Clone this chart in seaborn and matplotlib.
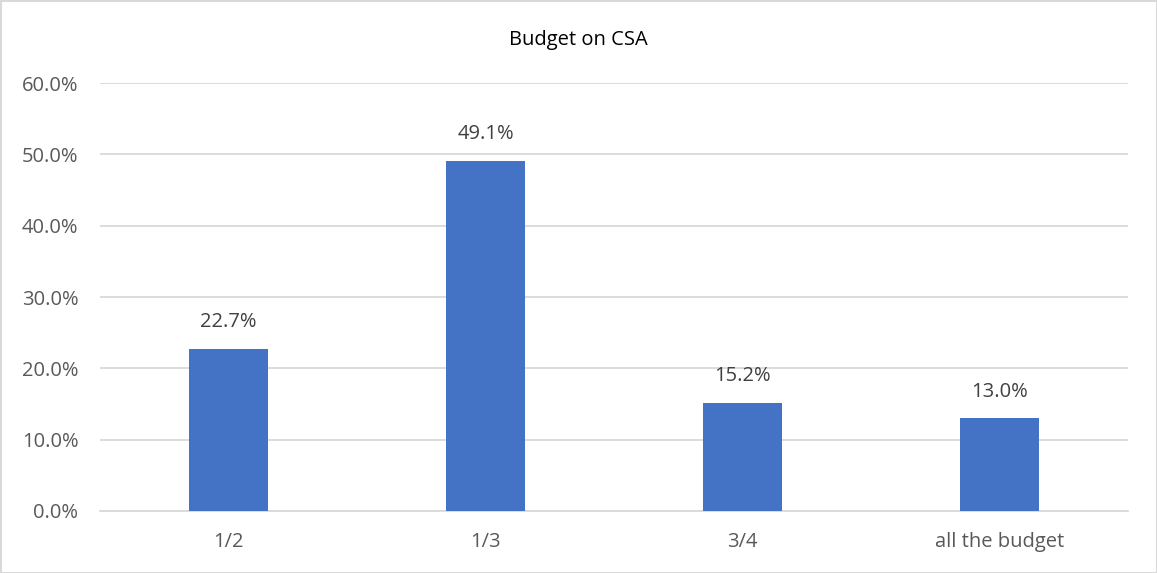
import matplotlib
matplotlib.use("Agg")
import matplotlib.pyplot as plt
import seaborn as sns
import pandas as pd
from matplotlib.ticker import FuncFormatter, MultipleLocator
from matplotlib.patches import Rectangle

categories = ["1/2", "1/3", "3/4", "all the budget"]
shares = [22.7, 49.1, 15.2, 13.0]
title = "Budget on CSA"

sns.set_theme(style="white")
plt.rcParams["font.family"] = ["Open Sans", "DejaVu Sans"]

df = pd.DataFrame({"category": categories, "share": shares})

fig = plt.figure(figsize=(11.57, 5.73), dpi=100)
ax = fig.add_axes([100 / 1157, 1 - 511 / 573, (1128 - 100) / 1157, (511 - 83) / 573])

sns.barplot(data=df, x="category", y="share", color="#4472C4", width=0.31,
            saturation=1, linewidth=0, ax=ax, zorder=3)

ax.set_ylim(0, 60)
ax.set_xlim(-0.5, len(categories) - 0.5)
ax.yaxis.set_major_locator(MultipleLocator(10))
ax.yaxis.set_major_formatter(FuncFormatter(lambda v, _: f"{v:.1f}%"))
ax.grid(axis="y", color="#d9d9d9", linewidth=1.3, zorder=0)
for s in ["top", "right", "left"]:
    ax.spines[s].set_visible(False)
ax.spines["bottom"].set_color("#d9d9d9")
ax.spines["bottom"].set_linewidth(1.3)
ax.set_xlabel("")
ax.set_ylabel("")
ax.tick_params(axis="both", length=0, labelsize=14.5, colors="#595959")
ax.tick_params(axis="y", pad=15.5)
ax.tick_params(axis="x", pad=15)

for i, v in enumerate(shares):
    ax.annotate(f"{v:.1f}%", (i, v), xytext=(0, 12), textcoords="offset points",
                ha="center", va="bottom", fontsize=14.5, color="#404040")

fig.text(0.5, 1 - 40 / 573, title, ha="center", va="center", fontsize=14.5, color="#000000")

fig.patches.append(Rectangle((0.5 / 1157, 0.5 / 573), 1 - 1 / 1157, 1 - 1 / 573,
                             transform=fig.transFigure, fill=False,
                             edgecolor="#d9d9d9", linewidth=1.5))

fig.savefig("out.png", dpi=100)
